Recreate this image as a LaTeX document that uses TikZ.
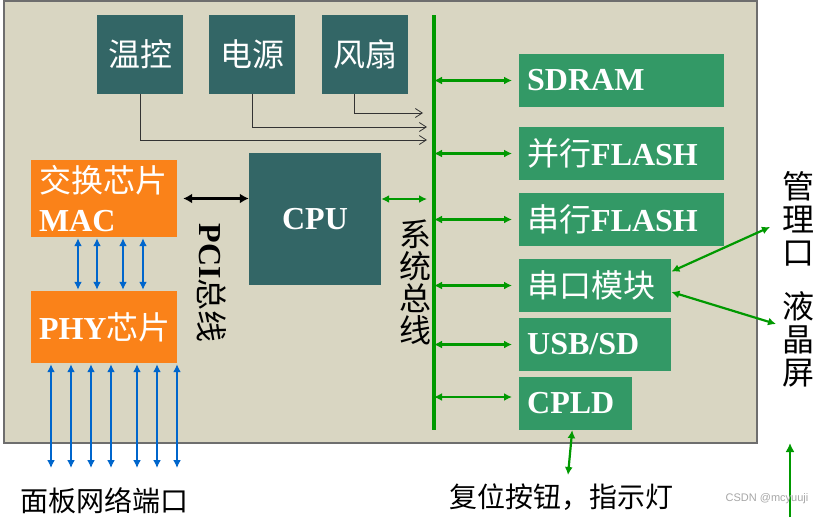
\documentclass[tikz,border=0pt]{standalone}
\usepackage{fontspec}
\setmainfont{Liberation Serif}
\newfontfamily\cjk{Noto Sans CJK SC}
\newfontfamily\wmark{Liberation Sans}
\usepackage{xcolor}
\definecolor{hwteal}{RGB}{51,102,102}
\definecolor{hwgreen}{RGB}{51,153,102}
\definecolor{hworange}{RGB}{250,130,25}
\definecolor{hwbeige}{RGB}{217,214,194}
\definecolor{hwedge}{RGB}{110,110,110}
\definecolor{hwbus}{RGB}{0,153,0}
\definecolor{hwblue}{RGB}{0,102,204}
\usetikzlibrary{arrows.meta, positioning}
\newcommand{\zh}[1]{{\cjk\mdseries #1}}
\newcommand{\bigfont}{\fontsize{32}{34}\selectfont}

\tikzset{
  board/.style={fill=hwbeige, draw=hwedge, line width=1.5pt},
  tealbox/.style={fill=hwteal, text=white, inner sep=0pt, minimum width=86pt, minimum height=79pt, font=\bigfont\cjk},
  chipbox/.style={fill=hworange, text=white, inner xsep=8pt, inner ysep=0pt, text width=130pt, minimum height=77pt, align=left, font=\fontsize{32}{39}\selectfont\bfseries},
  greenbox/.style={fill=hwgreen, text=white, anchor=west, inner xsep=8pt, inner ysep=0pt, minimum height=53pt, align=left, font=\bigfont\bfseries},
  vlabel/.style={align=center, inner sep=0pt, font=\fontsize{32}{33}\selectfont\cjk},
  busline/.style={draw=hwbus, line width=3.5pt},
  busarrow/.style={draw=hwbus, line width=2.2pt, {Latex[length=8pt,width=8pt]}-{Latex[length=8pt,width=8pt]}},
  linkarrow/.style={draw=hwblue, line width=2.3pt, {Latex[length=8pt,width=8pt]}-{Latex[length=8pt,width=8pt]}},
  pciarrow/.style={draw=black, line width=2.8pt, {Latex[length=9pt,width=10pt]}-{Latex[length=9pt,width=10pt]}},
  sigline/.style={draw=black!80, line width=0.8pt, -{Straight Barb[length=7pt,width=9pt]}}
}

\begin{document}
\begin{tikzpicture}[x=1pt, y=-1pt]
  \useasboundingbox (0,0) rectangle (827,517);
  % Board
  \draw[board] (4,1) rectangle (757,443);

  % Monitoring blocks
  \node[tealbox] (wenkong) at (140,54.5) {温控};
  \node[tealbox] (dianyuan) at (252,54.5) {电源};
  \node[tealbox] (fengshan) at (365,54.5) {风扇};
  \coordinate (fanin) at (423,113);
  \coordinate (powin) at (427,127);
  \coordinate (tmpin) at (427,140);
  \draw[sigline] ([xshift=-11pt]fengshan.south) |- (fanin);
  \draw[sigline] (dianyuan.south) |- (powin);
  \draw[sigline] (wenkong.south) |- (tmpin);

  % CPU
  \node[tealbox, minimum width=132pt, minimum height=132pt, font=\bigfont\bfseries] (cpu) at (315,219) {CPU};

  % System bus
  \coordinate (bustop) at (434,15);
  \coordinate (busbot) at (434,430);
  \draw[busline] (bustop) -- (busbot);
  \node[vlabel, font=\fontsize{32}{32}\selectfont\cjk] (sysbus) at (415,282) {系\\统\\总\\线};
  \coordinate (cpubus) at (427,199);
  \draw[busarrow] ([yshift=20pt]cpu.east) -- (cpubus);

  % Bus devices
  \node[greenbox, text width=189pt] (sdram) at (519,80.5) {SDRAM};
  \node[greenbox, text width=189pt] (pflash) at (519,153.5) {\zh{并行}FLASH};
  \node[greenbox, text width=189pt] (sflash) at (519,219.5) {\zh{串行}FLASH};
  \node[greenbox, text width=136pt] (uart) at (519,285.5) {\zh{串口模块}};
  \node[greenbox, text width=136pt] (usb) at (519,344.5) {USB/SD};
  \node[greenbox, text width=97pt] (cpld) at (519,403.5) {CPLD};
  \foreach \blk in {sdram, pflash, sflash, uart, usb}
    \draw[busarrow, shorten >=7pt] (bustop |- \blk.west) -- (\blk.west);
  \draw[busarrow, shorten >=7pt] (bustop |- 0,397) -- ([yshift=6.5pt]cpld.west);

  % Switch and PHY
  \node[chipbox] (mac) at (104,198.5) {\zh{交换芯片}\\MAC};
  \node[chipbox, minimum height=72pt] (phy) at (104,327) {PHY\zh{芯片}};
  \draw[pciarrow, shorten <=6pt] (mac.east) -- (mac.east -| cpu.west);
  \node[rotate=-90, inner sep=0pt, font=\bigfont\bfseries] (pcilbl) at (212,283) {PCI\zh{总线}};
  \foreach \dx in {-26,-7,19,39}
    \draw[linkarrow, shorten <=1pt, shorten >=1pt] ([xshift=\dx pt]mac.south) -- ([xshift=\dx pt]phy.north);
  \coordinate (portend) at (104,468);
  \foreach \dx in {-53,-33,-13,7,33,53,73}
    \draw[linkarrow, shorten <=1pt] ([xshift=\dx pt]phy.south) -- ([xshift=\dx pt]portend);
  \node[font=\fontsize{28}{30}\selectfont\cjk, inner sep=0pt] (portlbl) at (104,501) {面板网络端口};

  % External connections
  \node[vlabel] (mgmt) at (798,219) {管\\理\\口};
  \node[vlabel] (lcd) at (798,339.5) {液\\晶\\屏};
  \coordinate (mgmtin) at (770,227);
  \coordinate (lcdin) at (776,324);
  \draw[busarrow] ([yshift=14pt]uart.east) -- (mgmtin);
  \draw[busarrow] ([yshift=-6.5pt]uart.east) -- (lcdin);
  \coordinate (ledin) at (568,475);
  \draw[busarrow] ([xshift=-3.5pt]cpld.south) -- (ledin);
  \node[font=\fontsize{28}{30}\selectfont\cjk, inner sep=0pt] (resetlbl) at (561,497) {复位按钮，指示灯};
  \coordinate (lcdfoot) at (790,517);
  \coordinate (lcdtip) at (790,443);
  \draw[draw=hwbus, line width=2.2pt, -{Latex[length=9pt,width=9pt]}] (lcdfoot) -- (lcdtip);

  \node[font=\wmark\fontsize{11}{12}\selectfont, text=black!35, inner sep=0pt] (mark) at (767,499) {CSDN @mcyuuji};
\end{tikzpicture}
\end{document}
